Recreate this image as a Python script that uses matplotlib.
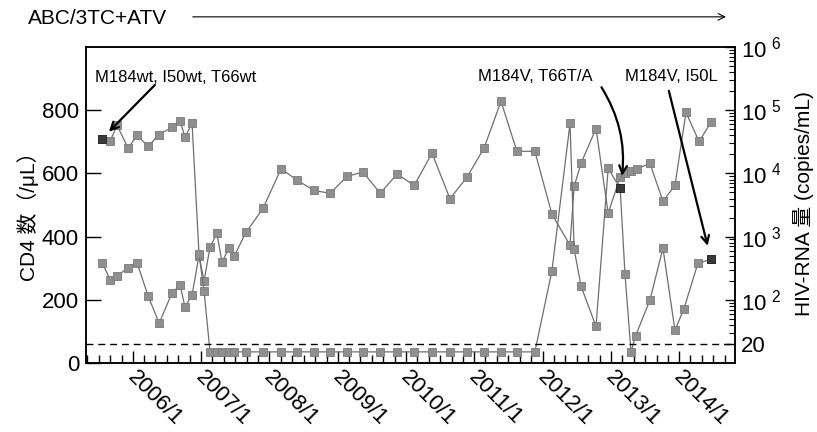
import matplotlib
matplotlib.use('Agg')
import matplotlib.pyplot as plt
import matplotlib.dates as mdates
import matplotlib.ticker as ticker
import matplotlib.transforms as mtransforms
import pandas as pd

plt.rcParams['font.family'] = ['Liberation Sans', 'Noto Sans CJK JP', 'DejaVu Sans']

# CD4 count (/uL), left axis
cd4_dates = ['2005-07-20', '2005-09-01', '2005-10-08', '2005-12-06', '2006-01-23', '2006-03-23',
             '2006-05-21', '2006-07-29', '2006-09-10', '2006-10-06', '2006-11-13', '2006-12-20',
             '2007-01-16', '2007-02-17', '2007-03-26', '2007-04-22', '2007-05-30', '2007-06-26',
             '2007-08-28', '2007-11-27', '2008-03-03', '2008-05-28', '2008-08-27', '2008-11-20',
             '2009-02-19', '2009-05-16', '2009-08-15', '2009-11-13', '2010-02-13', '2010-05-19',
             '2010-08-23', '2010-11-22', '2011-02-21', '2011-05-23', '2011-08-16', '2011-11-20',
             '2012-02-19', '2012-05-26', '2012-06-17', '2012-07-24', '2012-10-12', '2012-12-16',
             '2013-02-18', '2013-03-16', '2013-04-17', '2013-05-19', '2013-07-27', '2013-10-05',
             '2013-12-08', '2014-02-05', '2014-04-16', '2014-06-19']
cd4_counts = [317, 264, 276, 301, 317, 212,
              126, 222, 246, 178, 215, 340,
              259, 367, 410, 320, 363, 338,
              413, 489, 615, 578, 546, 537,
              591, 604, 537, 598, 562, 664,
              520, 588, 680, 828, 670, 670,
              471, 373, 559, 632, 742, 474,
              588, 600, 608, 614, 632, 512,
              562, 793, 701, 762]

# HIV-RNA (copies/mL), right axis; values below 20 plotted at 15
rna_dates = ['2005-07-20', '2005-09-01', '2005-10-08', '2005-12-06', '2006-01-23', '2006-03-23',
             '2006-05-21', '2006-07-29', '2006-09-10', '2006-10-06', '2006-11-13', '2006-12-20',
             '2007-01-16', '2007-02-17', '2007-03-26', '2007-04-22', '2007-05-30', '2007-06-26',
             '2007-08-28', '2007-11-27', '2008-03-03', '2008-05-28', '2008-08-27', '2008-11-20',
             '2009-02-19', '2009-05-16', '2009-08-15', '2009-11-13', '2010-02-13', '2010-05-19',
             '2010-08-23', '2010-11-22', '2011-02-21', '2011-05-23', '2011-08-16', '2011-11-20',
             '2012-02-19', '2012-05-26', '2012-06-17', '2012-07-24', '2012-10-12', '2012-12-16',
             '2013-02-18', '2013-03-16', '2013-04-17', '2013-05-12', '2013-07-27', '2013-10-05',
             '2013-12-08', '2014-01-25', '2014-04-10', '2014-06-19']
rna_copies = [35500, 32400, 57500, 25100, 39800, 26900,
              41200, 53700, 66800, 37600, 61700, 540,
              138, 15, 15, 15, 15, 15,
              15, 15, 15, 15, 15, 15,
              15, 15, 15, 15, 15, 15,
              15, 15, 15, 15, 15, 15,
              285, 61700, 631, 164, 38, 12000,
              5820, 254, 15, 27, 99, 653,
              33, 72, 380, 437]

# resistance tests (index into the RNA series) and results
resist_idx = [0, 42, 51]
resist_text = ['M184wt, I50wt, T66wt', 'M184V, T66T/A', 'M184V, I50L']

regimen = 'ABC/3TC+ATV'
detect_limit = 20

cd4_x = pd.to_datetime(cd4_dates)
rna_x = pd.to_datetime(rna_dates)

fig = plt.figure(figsize=(8.17, 4.32), dpi=100)
ax = fig.add_axes([0.1053, 0.1597, 0.7943, 0.7315])
ax2 = ax.twinx()

line_kw = dict(color='#6e6e6e', lw=0.9, marker='s', ms=5.8, mfc='#8f8f8f', mec='#7a7a7a', mew=0.6)
ax.plot(cd4_x, cd4_counts, **line_kw)
ax2.plot(rna_x, rna_copies, **line_kw)
ax2.plot(rna_x[resist_idx], [rna_copies[i] for i in resist_idx], ls='none', marker='s', ms=5.8,
         mfc='#3a3a3a', mec='#222222', mew=0.6)
ax2.axhline(detect_limit, color='black', lw=1.0, ls=(0, (5, 3.5)))

ax.set_xlim(pd.Timestamp('2005-04-25'), pd.Timestamp('2014-10-25'))
ax.set_ylim(0, 1000)
ax.set_yticks([0, 200, 400, 600, 800])
ax2.set_yscale('log')
ax2.set_ylim(10, 1e6)

ax.xaxis.set_major_locator(mdates.YearLocator(base=1, month=1, day=1))
ax.xaxis.set_minor_locator(mdates.MonthLocator(bymonth=[3, 5, 7, 9, 11]))
ax.xaxis.set_major_formatter(ticker.FuncFormatter(lambda v, p: '%d/1' % mdates.num2date(v).year))
ax.set_xticks([pd.Timestamp('%d-01-01' % y) for y in range(2006, 2015)])

rna_ticks = [20, 1e2, 1e3, 1e4, 1e5, 1e6]
ax2.yaxis.set_major_locator(ticker.FixedLocator(rna_ticks))
ax2.yaxis.set_major_formatter(ticker.FixedFormatter(
    ['20'] + [r'$\mathregular{10^{\ %d}}$' % k for k in range(2, 7)]))
ax2.yaxis.set_minor_locator(ticker.LogLocator(base=10, subs=range(2, 10)))
ax2.yaxis.set_minor_formatter(ticker.NullFormatter())

ax.tick_params(axis='y', direction='in', length=11, width=1, labelsize=16, pad=5)
ax.tick_params(axis='x', which='major', direction='in', length=8.5, width=1, labelsize=16, pad=3)
ax.tick_params(axis='x', which='minor', direction='in', length=5.5, width=1)
ax2.tick_params(axis='y', which='major', direction='in', length=7, width=1, labelsize=16, pad=4)
ax2.tick_params(axis='y', which='minor', direction='in', length=4, width=0.8)
shift = mtransforms.ScaledTranslation(5 / 100, 0, fig.dpi_scale_trans)
for lab in ax.get_xticklabels():
    lab.set_rotation(-45)
    lab.set_ha('left')
    lab.set_va('top')
    lab.set_rotation_mode('anchor')
    lab.set_transform(lab.get_transform() + shift)
for a in (ax, ax2):
    for s in a.spines.values():
        s.set_linewidth(1.1)

# mutation annotations
arrow_kw = dict(arrowstyle='->', color='black', lw=1.6, mutation_scale=14)
ax.text(0.014, 0.902, resist_text[0], transform=ax.transAxes, fontsize=12, va='center', ha='left')
ax2.annotate('', xy=(rna_x[resist_idx[0]], rna_copies[resist_idx[0]]), xytext=(0.109, 0.886),
             textcoords='axes fraction', arrowprops=dict(shrinkB=7, **arrow_kw))
ax.text(0.781, 0.908, resist_text[1], transform=ax.transAxes, fontsize=12, va='center', ha='right')
ax2.annotate('', xy=(rna_x[resist_idx[1]], rna_copies[resist_idx[1]]), xytext=(0.792, 0.880),
             textcoords='axes fraction',
             arrowprops=dict(shrinkB=9, connectionstyle='arc3,rad=-0.2', **arrow_kw))
ax.text(0.830, 0.908, resist_text[2], transform=ax.transAxes, fontsize=12, va='center', ha='left')
ax2.annotate('', xy=(rna_x[resist_idx[2]], rna_copies[resist_idx[2]]), xytext=(0.897, 0.870),
             textcoords='axes fraction', arrowprops=dict(shrinkB=10, **arrow_kw))

# regimen bar on top
fig.text(0.034, 0.958, regimen, fontsize=15, va='center', ha='left')
fig.patches.append(matplotlib.patches.FancyArrowPatch((0.2326, 0.961), (0.892, 0.961),
                   transform=fig.transFigure, arrowstyle='->', mutation_scale=12,
                   color='black', lw=0.8))

fig.text(0.034, 0.51, 'CD4 数（/μL）', rotation=90, fontsize=15, va='center', ha='center')
fig.text(0.983, 0.528, 'HIV-RNA 量 (copies/mL)', rotation=90, fontsize=15, va='center', ha='center')

fig.savefig('out.png', dpi=100)
